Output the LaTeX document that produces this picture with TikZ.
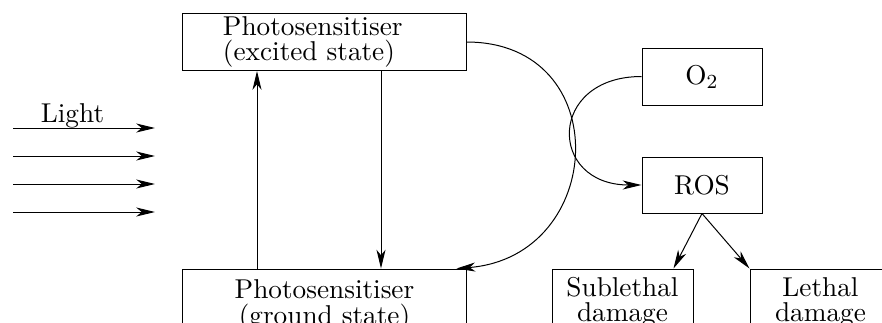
\documentclass[tikz,border=0pt]{standalone}
\usetikzlibrary{arrows.meta,calc}
\begin{document}
\begin{tikzpicture}[x=0.4pt,y=-0.4pt,
  txt/.style={font=\fontsize{10.9pt}{10.1pt}\selectfont},
  box/.style={draw, line width=0.4pt, inner sep=0pt, txt, align=center},
  arr/.style={-{Stealth[length=7.5pt,width=3.6pt,inset=2.2pt]}, line width=0.4pt}]
\useasboundingbox (0,0) rectangle (882,322);
\clip (0,0) rectangle (882,322);
% boxes
\node[box, minimum width=113.2pt, minimum height=22.8pt, text width=81.2pt, align=left] (exc) at (324.5,42) {Photosensitiser\\(excited state)};
\node[box, minimum width=113.2pt, minimum height=29.1pt] (gnd) at (324.5,305.4) {Photosensitiser\\(ground state)};
\node[box, minimum width=48pt, minimum height=22.8pt] (o2) at (702,76.5) {O$_2$};
\node[box, minimum width=48pt, minimum height=22.4pt] (ros) at (702,185) {ROS};
\node[box, minimum width=56.4pt, minimum height=26.4pt] (sub) at (622.5,302) {Sublethal\\damage};
\node[box, minimum width=56.4pt, minimum height=26.4pt] (leth) at (820.5,302) {Lethal\\damage};
% light
\node[txt, anchor=base] (light) at (72.5,122) {Light};
\foreach \i/\y in {1/128,2/156,3/184,4/212}{
  \coordinate (ls\i) at (13,\y);
  \coordinate (le\i) at (155,\y);
  \draw[arr] (ls\i) -- (le\i);
}
% vertical arrows
\coordinate (upx) at (257,0);
\coordinate (dnx) at (381,0);
\draw[arr] (gnd.north -| upx) -- (exc.south -| upx);
\draw[arr] (exc.south -| dnx) -- (gnd.north -| dnx);
% curves
\draw[arr] (exc.east) .. controls +(150,0) and +(150,-12) .. ($(gnd.north east)+(-10,0)$);
\draw[arr] (o2.west) .. controls +(-94,0) and +(-94,0) .. (ros.west);
% ROS to damage
\draw[arr] (ros.south) -- ($(sub.north east)+(-20,0)$);
\draw[arr] (ros.south) -- (leth.north west);
\end{tikzpicture}
\end{document}
